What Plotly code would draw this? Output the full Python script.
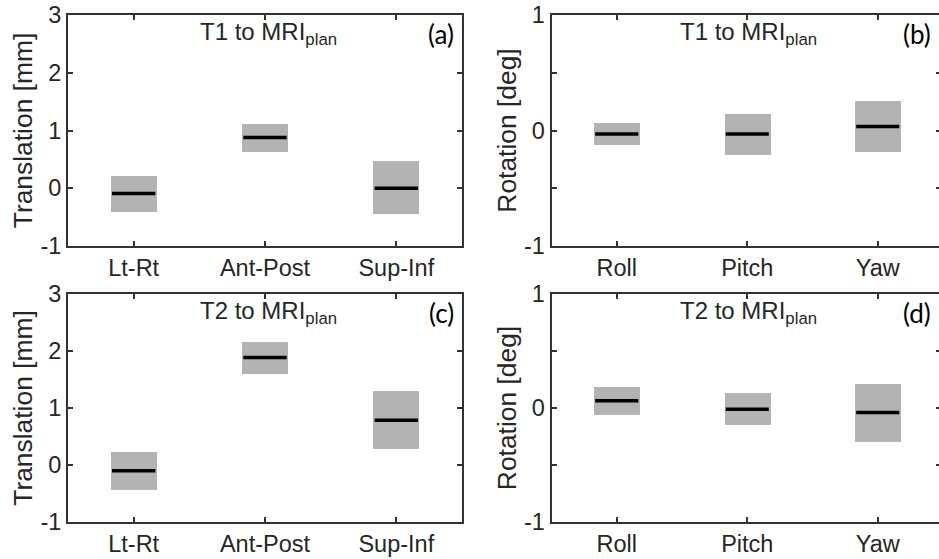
import plotly.graph_objects as go

# ---------------- data ----------------
trans_categories = ["Lt-Rt", "Ant-Post", "Sup-Inf"]
rot_categories = ["Roll", "Pitch", "Yaw"]

t1_trans_median = [-0.09, 0.88, 0.00]
t1_trans_low = [-0.41, 0.62, -0.45]
t1_trans_high = [0.21, 1.11, 0.47]

t1_rot_median = [-0.03, -0.03, 0.035]
t1_rot_low = [-0.125, -0.21, -0.19]
t1_rot_high = [0.064, 0.145, 0.255]

t2_trans_median = [-0.10, 1.885, 0.787]
t2_trans_low = [-0.43, 1.60, 0.285]
t2_trans_high = [0.23, 2.165, 1.29]

t2_rot_median = [0.063, -0.01, -0.04]
t2_rot_low = [-0.06, -0.15, -0.296]
t2_rot_high = [0.18, 0.133, 0.21]

trans_ticks = [-1, 0, 1, 2, 3]
trans_ticktext = ["-1", "0", "1", "2", "3"]
rot_ticks = [-1, -0.5, 0, 0.5, 1]
rot_ticktext = ["-1", "", "0", "", "1"]

panel_titles = ["T1 to MRI<sub>plan</sub>", "T1 to MRI<sub>plan</sub>",
                "T2 to MRI<sub>plan</sub>", "T2 to MRI<sub>plan</sub>"]
panel_letters = ["(a)", "(b)", "(c)", "(d)"]

# ---------------- style ----------------
W, H = 939, 559
BOX_COLOR = "#b3b3b3"
AX_COLOR = "#333333"
TXT_COLOR = "#262626"
FONT = "Liberation Sans"
BOX_W = 0.35
MED_HALF = 0.165
TICK_SIZE = 23.5
LABEL_SIZE = 26.4


def px_x(p):
    return min(1.0, p / W)


def px_y(p):
    return 1 - p / H


fig = go.Figure()

panels = [
    (t1_trans_median, t1_trans_low, t1_trans_high, trans_categories, "x", "y"),
    (t1_rot_median, t1_rot_low, t1_rot_high, rot_categories, "x2", "y2"),
    (t2_trans_median, t2_trans_low, t2_trans_high, trans_categories, "x3", "y3"),
    (t2_rot_median, t2_rot_low, t2_rot_high, rot_categories, "x4", "y4"),
]

for med, lo, hi, cats, xa, ya in panels:
    pos = list(range(1, len(cats) + 1))
    fig.add_trace(go.Bar(
        x=pos, y=[h - l for h, l in zip(hi, lo)], base=lo, width=BOX_W,
        marker=dict(color=BOX_COLOR, line=dict(width=0)),
        xaxis=xa, yaxis=ya, showlegend=False, hoverinfo="skip"))
    mx, my = [], []
    for p, m in zip(pos, med):
        mx += [p - MED_HALF, p + MED_HALF, None]
        my += [m, m, None]
    fig.add_trace(go.Scatter(
        x=mx, y=my, mode="lines", line=dict(color="black", width=3.5),
        xaxis=xa, yaxis=ya, showlegend=False, hoverinfo="skip"))

left_dom = [px_x(68), px_x(462)]
right_dom = [px_x(551.5), 1.0]
top_dom = [px_y(246), px_y(15)]
bot_dom = [px_y(522), px_y(294)]
right_xmax = 0.5 + (W - 551.5) / 130.5

common_x = dict(ticks="inside", ticklen=5, tickwidth=1.5, tickcolor=AX_COLOR,
                showline=True, linecolor=AX_COLOR, linewidth=2, mirror="ticks",
                showgrid=False, zeroline=False, tickvals=[1, 2, 3], automargin=False,
                tickfont=dict(family=FONT, size=TICK_SIZE, color=TXT_COLOR))
common_y = dict(ticks="inside", ticklen=5, tickwidth=1.5, tickcolor=AX_COLOR,
                showline=True, linecolor=AX_COLOR, linewidth=2, automargin=False,
                showgrid=False, zeroline=False,
                tickfont=dict(family=FONT, size=TICK_SIZE, color=TXT_COLOR),
                title_font=dict(family=FONT, size=LABEL_SIZE, color=TXT_COLOR))
right_ticks = dict(side="right", range=[-1, 1], tickvals=rot_ticks, automargin=False,
                   ticks="inside", ticklen=3, tickwidth=1.5, tickcolor=AX_COLOR, showline=False,
                   showticklabels=False, showgrid=False, zeroline=False)

fig.update_layout(
    template="none",
    width=W, height=H, margin=dict(l=0, r=0, t=0, b=0, pad=0), autosize=False,
    paper_bgcolor="white", plot_bgcolor="white", bargap=0, showlegend=False,
    font=dict(family=FONT, color=TXT_COLOR),
    xaxis=dict(common_x, domain=left_dom, range=[0.5, 3.5], ticktext=trans_categories, anchor="y"),
    xaxis2=dict(common_x, domain=right_dom, range=[0.5, right_xmax], ticktext=rot_categories, anchor="y2"),
    xaxis3=dict(common_x, domain=left_dom, range=[0.5, 3.5], ticktext=trans_categories, anchor="y3"),
    xaxis4=dict(common_x, domain=right_dom, range=[0.5, right_xmax], ticktext=rot_categories, anchor="y4"),
    yaxis=dict(common_y, domain=top_dom, range=[-1, 3], tickvals=trans_ticks, ticktext=trans_ticktext,
               mirror="ticks", anchor="x", title=dict(text="Translation [mm]", standoff=0)),
    yaxis2=dict(common_y, domain=top_dom, range=[-1, 1], tickvals=rot_ticks, ticktext=rot_ticktext,
                mirror=False, anchor="x2", title=dict(text="Rotation [deg]", standoff=0)),
    yaxis3=dict(common_y, domain=bot_dom, range=[-1, 3], tickvals=trans_ticks, ticktext=trans_ticktext,
                mirror="ticks", anchor="x3", title=dict(text="Translation [mm]", standoff=0)),
    yaxis4=dict(common_y, domain=bot_dom, range=[-1, 1], tickvals=rot_ticks, ticktext=rot_ticktext,
                mirror=False, anchor="x4", title=dict(text="Rotation [deg]", standoff=0)),
    yaxis5=dict(right_ticks, overlaying="y2", anchor="x2"),
    yaxis6=dict(right_ticks, overlaying="y4", anchor="x4"),
)

for ya, xa in [("y5", "x2"), ("y6", "x4")]:
    fig.add_trace(go.Scatter(x=[None], y=[None], xaxis=xa, yaxis=ya, showlegend=False, hoverinfo="skip"))

axes_ids = [("x", "y"), ("x2", "y2"), ("x3", "y3"), ("x4", "y4")]
for (xa, ya), title, letter in zip(axes_ids, panel_titles, panel_letters):
    fig.add_annotation(text=title, xref=f"{xa} domain", yref=f"{ya} domain", x=0.5, y=1,
                       xanchor="center", yanchor="top", xshift=3, yshift=-1, showarrow=False,
                       font=dict(family=FONT, size=24, color=TXT_COLOR))
    fig.add_annotation(text=letter, xref=f"{xa} domain", yref=f"{ya} domain", x=1, y=1,
                       xanchor="right", yanchor="top", xshift=-6, yshift=-1, showarrow=False,
                       font=dict(family="Lato", size=26, color="black"))

# remove the default page margin so the figure sits at the window's top-left corner
fig.write_html("out.html", config={"displayModeBar": False},
               post_script="document.body.style.margin='0px';"
                           "document.body.style.overflow='hidden';")
